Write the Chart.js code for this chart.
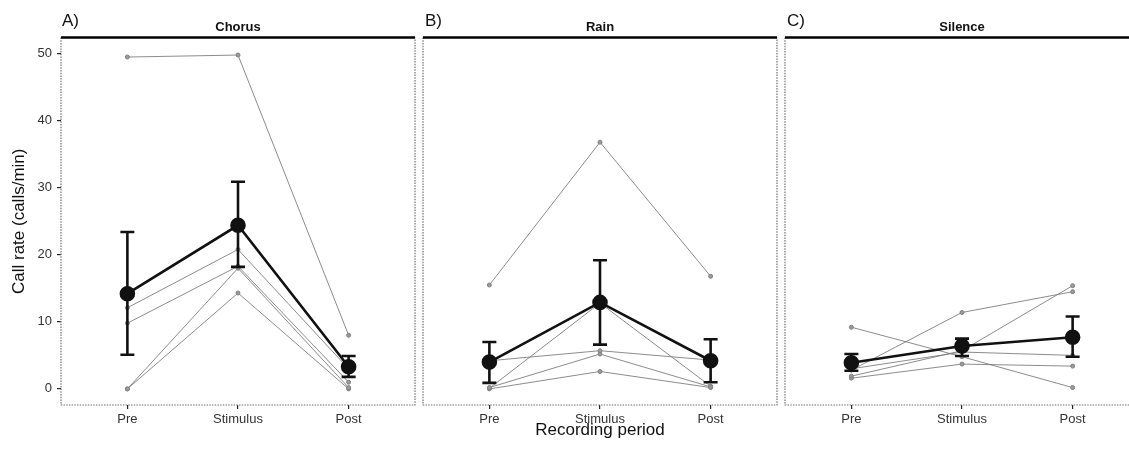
<!DOCTYPE html>
<html>
<head>
<meta charset="utf-8">
<script src="https://cdn.jsdelivr.net/npm/chart.js@4.4.1/dist/chart.umd.min.js"></script>
<style>
  body { margin: 0; background: #fff; width: 1129px; height: 451px; overflow: hidden; position: relative; }
  canvas { position: absolute; top: 0; }
  .tag { position: absolute; top: 11px; font: 17px "Liberation Sans", Arial, sans-serif; color: #111; line-height: 20px; }
</style>
</head>
<body>
<canvas id="painelA" width="420" height="451" style="left:0px"></canvas>
<canvas id="painelB" width="364" height="451" style="left:418px"></canvas>
<canvas id="painelC" width="364" height="451" style="left:780px"></canvas>
<div class="tag" style="left:62px">A)</div>
<div class="tag" style="left:425px">B)</div>
<div class="tag" style="left:787px">C)</div>
<script>
// Dados
const periods = ['Pre', 'Stimulus', 'Post'];
const yTicks = [0, 10, 20, 30, 40, 50];

// Chorus
const chorusFrogs = [
    [49.5, 49.8, 8.0],
    [12.1, 20.8, 3.0],
    [9.8, 18.3, 1.0],
    [0.0, 18.0, 0.2],
    [0.0, 14.3, 0.0]
];
const chorusMean = [14.2, 24.4, 3.3];
const chorusLow = [5.1, 18.2, 1.8];
const chorusHigh = [23.4, 30.9, 4.9];

// Rain
const rainFrogs = [
    [15.5, 36.8, 16.8],
    [4.2, 5.7, 4.3],
    [0.2, 5.2, 0.3],
    [0.0, 2.6, 0.2],
    [0.1, 12.8, 0.4]
];
const rainMean = [4.0, 12.9, 4.2];
const rainLow = [0.9, 6.6, 1.0];
const rainHigh = [7.0, 19.2, 7.4];

// Silence
const silenceFrogs = [
    [9.2, 4.8, 0.2],
    [2.8, 11.4, 14.5],
    [1.9, 5.7, 15.4],
    [1.6, 3.7, 3.4],
    [3.0, 5.5, 5.0]
];
const silenceMean = [3.9, 6.4, 7.7];
const silenceLow = [2.7, 4.9, 4.8];
const silenceHigh = [5.2, 7.5, 10.8];

const fonte = '"Liberation Sans", Arial, sans-serif';

// moldura: topo preto, lados e base pontilhados
const moldura = {
    id: 'moldura',
    afterDatasetsDraw(chart) {
        const { ctx, chartArea: a } = chart;
        ctx.save();
        ctx.strokeStyle = '#707070';
        ctx.lineWidth = 1.2;
        ctx.setLineDash([1.5, 1.2]);
        ctx.beginPath();
        ctx.moveTo(a.left, a.top);
        ctx.lineTo(a.left, a.bottom);
        ctx.lineTo(a.right, a.bottom);
        ctx.lineTo(a.right, a.top);
        ctx.stroke();
        ctx.setLineDash([]);
        ctx.strokeStyle = '#000';
        ctx.lineWidth = 2.5;
        ctx.beginPath();
        ctx.moveTo(a.left, a.top);
        ctx.lineTo(a.right, a.top);
        ctx.stroke();
        ctx.restore();
    }
};

function pontos(valores) {
    return valores.map((v, i) => ({ x: i, y: v }));
}

function criarPainel(id, titulo, frogs, mean, low, high, mostrarY, mostrarTituloX, padLeft, padRight) {
    const datasets = [];

    datasets.push({
        data: pontos(mean),
        borderColor: '#111',
        backgroundColor: '#111',
        borderWidth: 2.6,
        pointRadius: 6.5,
        pointBackgroundColor: '#111',
        pointBorderColor: '#111',
        order: 0
    });

    // barras de erro (verticais)
    const barras = [];
    periods.forEach((p, i) => {
        barras.push({ x: i, y: low[i] }, { x: i, y: high[i] }, { x: i, y: null });
    });
    datasets.push({
        data: barras,
        borderColor: '#111',
        borderWidth: 2.6,
        pointRadius: 0,
        spanGaps: false,
        order: 1
    });

    // tampas das barras de erro
    datasets.push({
        data: pontos(low).concat(pontos(high)),
        showLine: false,
        pointStyle: 'line',
        pointRadius: 7,
        pointBorderWidth: 2.6,
        pointBorderColor: '#111',
        borderColor: '#111',
        order: 1
    });

    frogs.forEach(f => {
        datasets.push({
            data: pontos(f),
            borderColor: 'rgba(120,120,120,0.85)',
            borderWidth: 1,
            pointRadius: 2,
            pointBackgroundColor: '#9a9a9a',
            pointBorderColor: '#808080',
            pointBorderWidth: 1,
            order: 2
        });
    });

    return new Chart(document.getElementById(id), {
        type: 'line',
        data: { datasets: datasets },
        plugins: [moldura],
        options: {
            responsive: false,
            animation: false,
            layout: { autoPadding: false, padding: { left: padLeft, right: padRight, top: 0, bottom: 0 } },
            scales: {
                x: {
                    type: 'linear',
                    min: -0.6,
                    max: 2.6,
                    afterBuildTicks: s => { s.ticks = periods.map((p, i) => ({ value: i })); },
                    afterFit: s => { s.height = 46; },
                    grid: { drawOnChartArea: false, drawTicks: true, tickLength: 4, color: '#222', lineWidth: 1.2 },
                    border: { display: false },
                    ticks: {
                        autoSkip: false,
                        maxRotation: 0,
                        padding: 3,
                        color: '#333',
                        font: { family: fonte, size: 13 },
                        callback: v => periods[v]
                    },
                    title: {
                        display: mostrarTituloX,
                        text: 'Recording period',
                        color: '#111',
                        font: { family: fonte, size: 17 },
                        padding: { top: 0, bottom: 10 }
                    }
                },
                y: {
                    display: mostrarY,
                    min: -2.4,
                    max: 52.4,
                    afterBuildTicks: s => { s.ticks = yTicks.map(v => ({ value: v })); },
                    afterFit: s => { s.width = mostrarY ? 61 : 0; },
                    grid: { drawOnChartArea: false, drawTicks: true, tickLength: 4, color: '#222', lineWidth: 1.2 },
                    border: { display: false },
                    ticks: {
                        padding: 5,
                        color: '#333',
                        font: { family: fonte, size: 13 }
                    },
                    title: {
                        display: true,
                        text: 'Call rate (calls/min)',
                        color: '#111',
                        font: { family: fonte, size: 17 },
                        padding: { top: 9, bottom: 0 }
                    }
                }
            },
            plugins: {
                legend: { display: false },
                tooltip: { enabled: false },
                title: {
                    display: true,
                    text: titulo,
                    fullSize: false,
                    color: '#111',
                    font: { family: fonte, size: 13, weight: 'bold' },
                    padding: { top: 20, bottom: 2 }
                }
            }
        }
    });
}

criarPainel('painelA', 'Chorus', chorusFrogs, chorusMean, chorusLow, chorusHigh, true, false, 0, 5);
criarPainel('painelB', 'Rain', rainFrogs, rainMean, rainLow, rainHigh, false, true, 5, 5);
criarPainel('painelC', 'Silence', silenceFrogs, silenceMean, silenceLow, silenceHigh, false, false, 5, 5);
</script>
</body>
</html>
